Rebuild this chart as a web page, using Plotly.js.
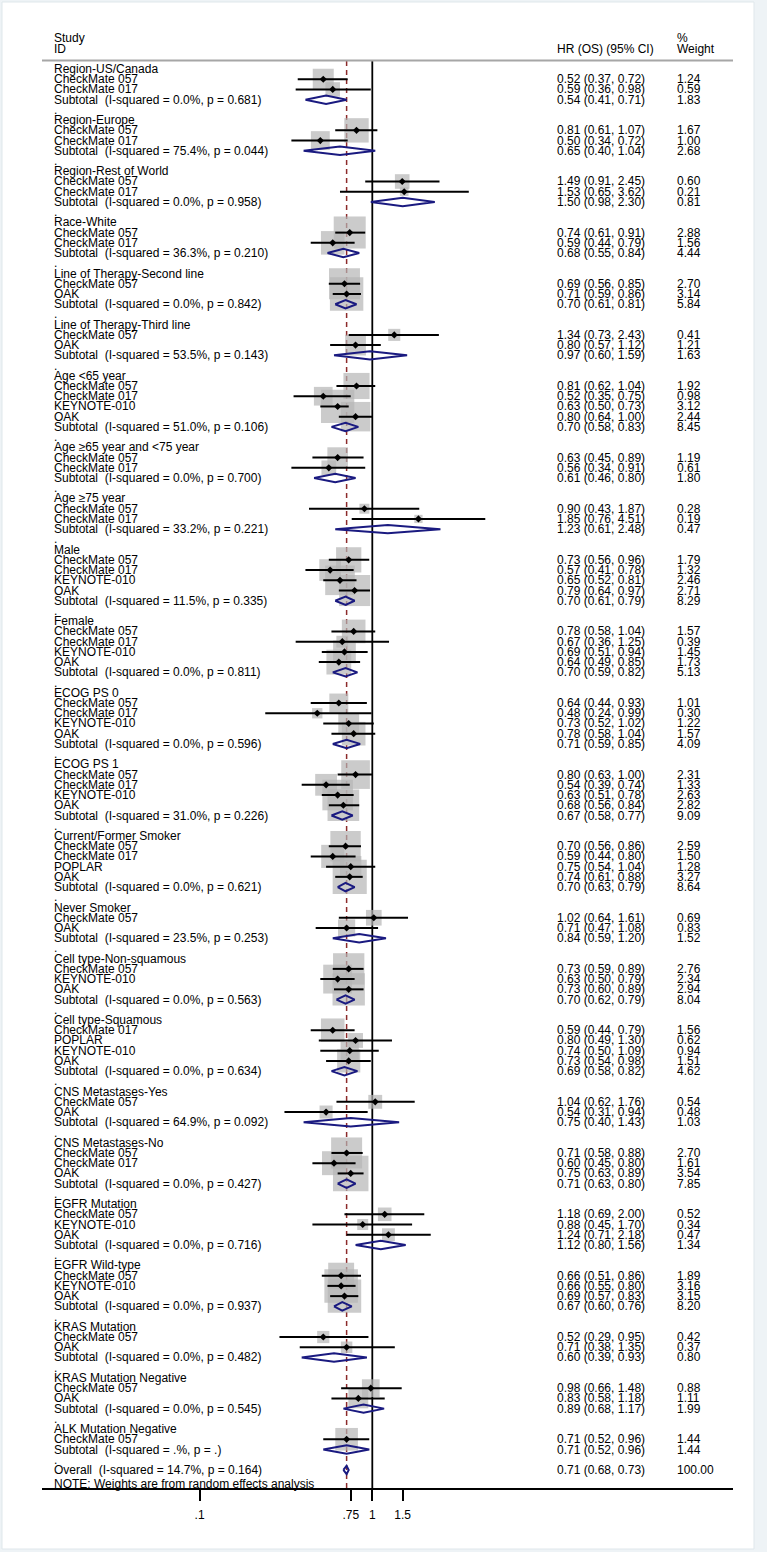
<!DOCTYPE html>
<html><head><meta charset="utf-8">
<script src="https://cdn.plot.ly/plotly-3.0.1.min.js"></script>
<style>html,body{margin:0;padding:0;background:#fff}</style>
</head><body><div id="chart" style="width:767px;height:1552px"></div>
<script>
// ---------------- DATA ----------------
const groupNames = ["Region-US/Canada","Region-Europe","Region-Rest of World","Race-White",
  "Line of Therapy-Second line","Line of Therapy-Third line","Age <65 year","Age \u226565 year and <75 year",
  "Age \u226575 year","Male","Female","ECOG PS 0","ECOG PS 1","Current/Former Smoker","Never Smoker",
  "Cell type-Non-squamous","Cell type-Squamous","CNS Metastases-Yes","CNS Metastases-No","EGFR Mutation",
  "EGFR Wild-type","KRAS Mutation","KRAS Mutation Negative","ALK Mutation Negative"];
const groupSizes = [2,2,2,2,2,2,4,2,2,4,4,4,4,4,2,3,4,2,3,3,3,2,2,1];

const studyNames = [
 "CheckMate 057","CheckMate 017",
 "CheckMate 057","CheckMate 017",
 "CheckMate 057","CheckMate 017",
 "CheckMate 057","CheckMate 017",
 "CheckMate 057","OAK",
 "CheckMate 057","OAK",
 "CheckMate 057","CheckMate 017","KEYNOTE-010","OAK",
 "CheckMate 057","CheckMate 017",
 "CheckMate 057","CheckMate 017",
 "CheckMate 057","CheckMate 017","KEYNOTE-010","OAK",
 "CheckMate 057","CheckMate 017","KEYNOTE-010","OAK",
 "CheckMate 057","CheckMate 017","KEYNOTE-010","OAK",
 "CheckMate 057","CheckMate 017","KEYNOTE-010","OAK",
 "CheckMate 057","CheckMate 017","POPLAR","OAK",
 "CheckMate 057","OAK",
 "CheckMate 057","KEYNOTE-010","OAK",
 "CheckMate 017","POPLAR","KEYNOTE-010","OAK",
 "CheckMate 057","OAK",
 "CheckMate 057","CheckMate 017","OAK",
 "CheckMate 057","KEYNOTE-010","OAK",
 "CheckMate 057","KEYNOTE-010","OAK",
 "CheckMate 057","OAK",
 "CheckMate 057","OAK",
 "CheckMate 057"];
const studyHR = [0.52,0.59, 0.81,0.50, 1.49,1.53, 0.74,0.59, 0.69,0.71, 1.34,0.80,
 0.81,0.52,0.63,0.80, 0.63,0.56, 0.90,1.85, 0.73,0.57,0.65,0.79, 0.78,0.67,0.69,0.64,
 0.64,0.48,0.73,0.78, 0.80,0.54,0.63,0.68, 0.70,0.59,0.75,0.74, 1.02,0.71, 0.73,0.63,0.73,
 0.59,0.80,0.74,0.73, 1.04,0.54, 0.71,0.60,0.75, 1.18,0.88,1.24, 0.66,0.66,0.69, 0.52,0.71,
 0.98,0.83, 0.71];
const studyLo = [0.37,0.36, 0.61,0.34, 0.91,0.65, 0.61,0.44, 0.56,0.59, 0.73,0.57,
 0.62,0.35,0.50,0.64, 0.45,0.34, 0.43,0.76, 0.56,0.41,0.52,0.64, 0.58,0.36,0.51,0.49,
 0.44,0.24,0.52,0.58, 0.63,0.39,0.51,0.56, 0.56,0.44,0.54,0.61, 0.64,0.47, 0.59,0.50,0.60,
 0.44,0.49,0.50,0.54, 0.62,0.31, 0.58,0.45,0.63, 0.69,0.45,0.71, 0.51,0.55,0.57, 0.29,0.38,
 0.66,0.58, 0.52];
const studyHi = [0.72,0.98, 1.07,0.72, 2.45,3.62, 0.91,0.79, 0.85,0.86, 2.43,1.12,
 1.04,0.75,0.73,1.00, 0.89,0.91, 1.87,4.51, 0.96,0.78,0.81,0.97, 1.04,1.25,0.94,0.85,
 0.93,0.99,1.02,1.04, 1.00,0.74,0.78,0.84, 0.86,0.80,1.04,0.88, 1.61,1.08, 0.89,0.79,0.89,
 0.79,1.30,1.09,0.98, 1.76,0.94, 0.88,0.80,0.89, 2.00,1.70,2.18, 0.86,0.80,0.83, 0.95,1.35,
 1.48,1.18, 0.96];
const studyWt = [1.24,0.59, 1.67,1.00, 0.60,0.21, 2.88,1.56, 2.70,3.14, 0.41,1.21,
 1.92,0.98,3.12,2.44, 1.19,0.61, 0.28,0.19, 1.79,1.32,2.46,2.71, 1.57,0.39,1.45,1.73,
 1.01,0.30,1.22,1.57, 2.31,1.33,2.63,2.82, 2.59,1.50,1.28,3.27, 0.69,0.83, 2.76,2.34,2.94,
 1.56,0.62,0.94,1.51, 0.54,0.48, 2.70,1.61,3.54, 0.52,0.34,0.47, 1.89,3.16,3.15, 0.42,0.37,
 0.88,1.11, 1.44];

const subI2 = ["0.0%","75.4%","0.0%","36.3%","0.0%","53.5%","51.0%","0.0%","33.2%","11.5%","0.0%","0.0%",
 "31.0%","0.0%","23.5%","0.0%","0.0%","64.9%","0.0%","0.0%","0.0%","0.0%","0.0%",".%"];
const subP = ["0.681","0.044","0.958","0.210","0.842","0.143","0.106","0.700","0.221","0.335","0.811","0.596",
 "0.226","0.621","0.253","0.563","0.634","0.092","0.427","0.716","0.937","0.482","0.545","."];
const subHR = [0.54,0.65,1.50,0.68,0.70,0.97,0.70,0.61,1.23,0.70,0.70,0.71,0.67,0.70,0.84,0.70,0.69,0.75,0.71,1.12,0.67,0.60,0.89,0.71];
const subLo = [0.41,0.40,0.98,0.55,0.61,0.60,0.58,0.46,0.61,0.61,0.59,0.59,0.58,0.63,0.59,0.62,0.58,0.40,0.63,0.80,0.60,0.39,0.68,0.52];
const subHi = [0.71,1.04,2.30,0.84,0.81,1.59,0.83,0.80,2.48,0.79,0.82,0.85,0.77,0.79,1.20,0.79,0.82,1.43,0.80,1.56,0.76,0.93,1.17,0.96];
const subWt = [1.83,2.68,0.81,4.44,5.84,1.63,8.45,1.80,0.47,8.29,5.13,4.09,9.09,8.64,1.52,8.04,4.62,1.03,7.85,1.34,8.20,0.80,1.99,1.44];

const overallHR = 0.71, overallLo = 0.68, overallHi = 0.73, overallI2 = "14.7%", overallP = "0.164", overallWt = 100;

const tickVals = [0.1, 0.75, 1, 1.5];
const tickLabels = [".1", ".75", "1", "1.5"];

// ---------------- GEOMETRY / STYLE ----------------
const W = 767, H = 1552;
const PX_ONE = 372.3, PX_DEC = 172.7;       // pixel of HR=1, pixels per decade
const AX_L = 42, AX_R = 733, AX_Y = 1489;
const ROW0 = 69, ROWH = 10.226;
const rowOfPx = p => (p - ROW0) / ROWH;
const COL_ID = 52, COL_CI = 555, COL_WT = 675;
const FONT = {family: "Liberation Sans, Arial, sans-serif", size: 12, color: "#000"};
const NB = "\u00a0";
const fmt = v => v.toFixed(2);

// ---------------- BUILD ROWS ----------------
const ann = [];
function txt(t, xpx, row) {
  ann.push({text: t, x: xpx / W, xref: "paper", y: row, yref: "y", xanchor: "left", yanchor: "middle",
            showarrow: false, font: FONT});
}
// headers
txt("Study", COL_ID, -3); txt("ID", COL_ID, -2);
txt("HR (OS) (95% CI)", COL_CI, -2);
txt("%", COL_WT, -3); txt("Weight", COL_WT, -2);

const boxX = [], boxY = [], boxS = [];
const ciX = [], ciY = [];
const dmX = [], dmY = [];
const dX = [], dY = [];
const DH = 0.41;
function diamond(hr, lo, hi, r) {
  dX.push(lo, hr, hi, hr, lo, null);
  dY.push(r, r - DH, r, r + DH, r, null);
}
let row = 0, si = 0;
groupNames.forEach((g, gi) => {
  if (gi > 0) txt(".", COL_ID, row - 1);
  txt(g, COL_ID, row); row++;
  for (let k = 0; k < groupSizes[gi]; k++, si++, row++) {
    txt(studyNames[si], COL_ID, row);
    txt(fmt(studyHR[si]) + " (" + fmt(studyLo[si]) + ", " + fmt(studyHi[si]) + ")", COL_CI, row);
    txt(fmt(studyWt[si]), COL_WT, row);
    boxX.push(studyHR[si]); boxY.push(row); boxS.push(18.86 * Math.sqrt(studyWt[si]));
    ciX.push(studyLo[si], studyHi[si], null); ciY.push(row, row, null);
    dmX.push(studyHR[si]); dmY.push(row);
  }
  txt("Subtotal" + NB + NB + "(I-squared = " + subI2[gi] + ", p = " + subP[gi] + ")", COL_ID, row);
  txt(fmt(subHR[gi]) + " (" + fmt(subLo[gi]) + ", " + fmt(subHi[gi]) + ")", COL_CI, row);
  txt(fmt(subWt[gi]), COL_WT, row);
  diamond(subHR[gi], subLo[gi], subHi[gi], row);
  row += 2;
});
txt(".", COL_ID, row - 1);
const overallRow = row;
txt("Overall" + NB + NB + "(I-squared = " + overallI2 + ", p = " + overallP + ")", COL_ID, overallRow);
txt(fmt(overallHR) + " (" + fmt(overallLo) + ", " + fmt(overallHi) + ")", COL_CI, overallRow);
txt(overallWt.toFixed(2), COL_WT, overallRow);
diamond(overallHR, overallLo, overallHi, overallRow);
ann.push({text: "NOTE: Weights are from random effects analysis", x: COL_ID / W, xref: "paper",
  y: rowOfPx(1484), yref: "y", xanchor: "left", yanchor: "middle", showarrow: false, font: FONT});

const lineTop = rowOfPx(61), lineBot = rowOfPx(AX_Y);

const traces = [
  {x: [1, 1], y: [lineTop, lineBot], mode: "lines", line: {color: "#000", width: 1.8}, hoverinfo: "skip"},
  {x: [overallHR, overallHR], y: [lineTop, lineBot], mode: "lines",
   line: {color: "#8c2a2a", width: 1.5, dash: "5px,4px"}, hoverinfo: "skip"},
  {x: boxX, y: boxY, mode: "markers", marker: {symbol: "square", size: boxS, color: "#b5b5b5", line: {width: 0}}},
  {x: ciX, y: ciY, mode: "lines", line: {color: "#000", width: 2}, connectgaps: false},
  {x: dmX, y: dmY, mode: "markers", marker: {symbol: "diamond", size: 5.5, color: "#000", line: {width: 0}}},
  {x: dX, y: dY, mode: "lines", line: {color: "#1a1a80", width: 2}, connectgaps: false}
];

const layout = {
  width: W, height: H, margin: {l: 0, r: 0, t: 0, b: 0},
  paper_bgcolor: "#eef3f6", plot_bgcolor: "rgba(0,0,0,0)", showlegend: false,
  font: FONT,
  xaxis: {type: "log", domain: [AX_L / W, AX_R / W],
    range: [(AX_L - PX_ONE) / PX_DEC, (AX_R - PX_ONE) / PX_DEC],
    anchor: "free", position: 1 - AX_Y / H,
    showline: true, linecolor: "#000", linewidth: 2, showgrid: false, zeroline: false,
    ticks: "outside", ticklen: 11, tickwidth: 2, tickcolor: "#000", ticklabelstandoff: 4,
    tickmode: "array", tickvals: tickVals, ticktext: tickLabels, tickfont: FONT, fixedrange: true},
  yaxis: {domain: [0, 1], range: [rowOfPx(H), rowOfPx(0)], visible: false, fixedrange: true},
  shapes: [
    {type: "rect", xref: "paper", yref: "paper", x0: 2 / W, x1: 754 / W, y0: 1 - 1549 / H, y1: 1 - 2 / H,
     fillcolor: "#ffffff", line: {color: "#dfe7eb", width: 1}, layer: "below"},
    {type: "line", xref: "paper", yref: "paper", x0: AX_L / W, x1: AX_R / W, y0: 1 - 60.5 / H, y1: 1 - 60.5 / H,
     line: {color: "#a6a6a6", width: 2}}
  ],
  annotations: ann
};
Plotly.newPlot("chart", traces, layout, {staticPlot: true, displayModeBar: false});
</script></body></html>
